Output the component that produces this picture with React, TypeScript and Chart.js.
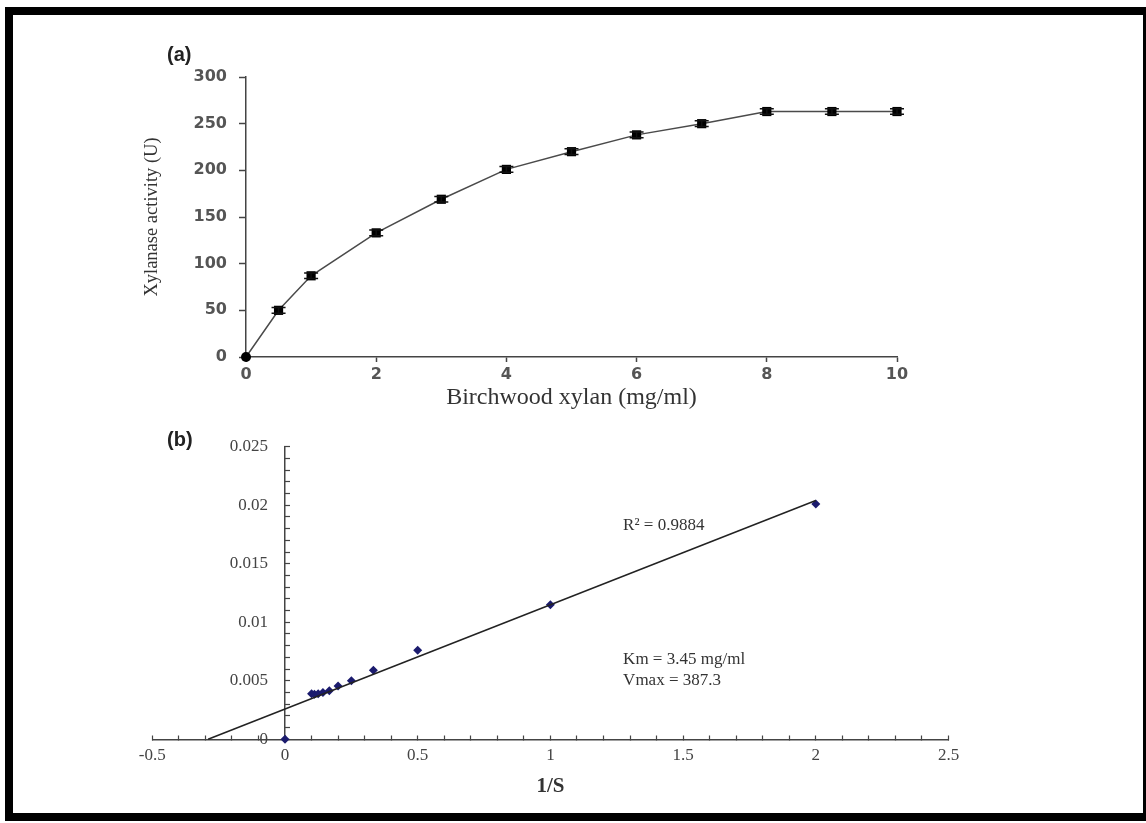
import React, { useEffect, useRef } from "react";
import { Chart, registerables } from "chart.js";

Chart.register(...registerables);

// ---- Panel (a): Michaelis-Menten curve ----
const substrateA = [0, 0.5, 1, 2, 3, 4, 5, 6, 7, 8, 9, 10];
const activityA = [0, 50, 87, 133, 169, 201, 220, 238, 250, 263, 263, 263];
const errorA = [0, 3, 3, 3, 3, 3, 3, 3, 3, 3, 3, 3];
const xTicksA = [0, 2, 4, 6, 8, 10];
const yTicksA = [0, 50, 100, 150, 200, 250, 300];

// ---- Panel (b): Lineweaver-Burk plot ----
const invS = [0, 0.1, 0.111, 0.125, 0.143, 0.167, 0.2, 0.25, 0.333, 0.5, 1, 2];
const invV = [0, 0.0039, 0.00385, 0.0039, 0.004, 0.00415, 0.00455, 0.005, 0.0059, 0.0076, 0.0115, 0.0201];
const km = 3.45;
const vmax = 387.3;
const rSquared = "0.9884";
const trendX = [-1 / km, 2];
const notes = [`R² = ${rSquared}`, `Km = ${km} mg/ml`, `Vmax = ${vmax}`];

const errorBarPlugin = {
  id: "errorBars",
  afterDatasetsDraw(chart: any) {
    const ctx = chart.ctx;
    const meta = chart.getDatasetMeta(0);
    const ys = chart.scales.y;
    ctx.save();
    ctx.strokeStyle = "#111";
    ctx.lineWidth = 1.5;
    meta.data.forEach((pt: any, i: number) => {
      const e = errorA[i];
      if (!e) return;
      const yt = ys.getPixelForValue(activityA[i] + e);
      const yb = ys.getPixelForValue(activityA[i] - e);
      ctx.beginPath();
      ctx.moveTo(pt.x, yt);
      ctx.lineTo(pt.x, yb);
      ctx.moveTo(pt.x - 7, yt);
      ctx.lineTo(pt.x + 7, yt);
      ctx.moveTo(pt.x - 7, yb);
      ctx.lineTo(pt.x + 7, yb);
      ctx.stroke();
    });
    ctx.restore();
  },
};

const notesPlugin = {
  id: "notes",
  afterDatasetsDraw(chart: any) {
    const ctx = chart.ctx;
    const xs = chart.scales.x;
    const ys = chart.scales.y;
    const spots = [
      [1.274, 0.0183],
      [1.274, 0.0068],
      [1.274, 0.0050],
    ];
    ctx.save();
    ctx.fillStyle = "#333";
    ctx.font = "17px 'Liberation Serif'";
    ctx.textAlign = "left";
    ctx.textBaseline = "middle";
    notes.forEach((t, i) => {
      ctx.fillText(t, xs.getPixelForValue(spots[i][0]), ys.getPixelForValue(spots[i][1]));
    });
    ctx.restore();
  },
};

export default function App() {
  const refA = useRef<HTMLCanvasElement>(null);
  const refB = useRef<HTMLCanvasElement>(null);

  useEffect(() => {
    const axisColor = "#444";
    const chartA = new Chart(refA.current!, {
      type: "line",
      data: {
        datasets: [
          {
            data: substrateA.map((x, i) => ({ x, y: activityA[i] })),
            borderColor: "#4a4a4a",
            borderWidth: 1.5,
            pointStyle: substrateA.map((x) => (x === 0 ? "circle" : "rect")) as any,
            pointRadius: substrateA.map((x) => (x === 0 ? 5 : 6.5)),
            pointBackgroundColor: "#000",
            pointBorderColor: "#000",
            pointBorderWidth: 0,
            tension: 0,
            clip: false,
          },
        ],
      },
      options: {
        animation: false,
        responsive: false,
        layout: { padding: { left: 0, right: 43, top: 37, bottom: 0 } },
        plugins: { legend: { display: false }, tooltip: { enabled: false } },
        scales: {
          x: {
            type: "linear",
            min: 0,
            max: 10,
            afterBuildTicks: (s: any) => {
              s.ticks = xTicksA.map((v) => ({ value: v }));
            },
            ticks: {
              color: "#555",
              font: { family: "DejaVu Sans", size: 16, weight: "bold" },
              padding: 3,
              maxRotation: 0,
            },
            grid: { drawOnChartArea: false, drawTicks: true, tickLength: 5, tickColor: axisColor, tickWidth: 1.5 },
            border: { display: true, color: axisColor, width: 1.5 },
            title: {
              display: true,
              text: "Birchwood xylan (mg/ml)",
              color: "#333",
              font: { family: "Liberation Serif", size: 24 },
              padding: { top: 0, bottom: 7.6 },
            },
            afterFit: (s: any) => {
              s.height = 63;
            },
          },
          y: {
            type: "linear",
            min: 0,
            max: 300,
            afterBuildTicks: (s: any) => {
              s.ticks = yTicksA.map((v) => ({ value: v }));
            },
            ticks: {
              color: "#555",
              font: { family: "DejaVu Sans", size: 16, weight: "bold" },
              padding: 12,
            },
            grid: { drawOnChartArea: false, drawTicks: true, tickLength: 7, tickColor: axisColor, tickWidth: 1.5 },
            border: { display: true, color: axisColor, width: 1.5 },
            title: {
              display: true,
              text: "Xylanase activity (U)",
              color: "#333",
              font: { family: "Liberation Serif", size: 18.5 },
              padding: { top: 41, bottom: 0 },
            },
            afterFit: (s: any) => {
              s.width = 146;
            },
          },
        },
      } as any,
      plugins: [errorBarPlugin],
    });

    const isMultiple = (v: number, step: number) => Math.abs(v / step - Math.round(v / step)) < 1e-6;

    const chartB = new Chart(refB.current!, {
      type: "scatter",
      data: {
        datasets: [
          {
            type: "line",
            data: trendX.map((x) => ({ x, y: 1 / vmax + (km / vmax) * x })),
            borderColor: "#222",
            borderWidth: 1.5,
            pointRadius: 0,
            tension: 0,
            clip: false,
          } as any,
          {
            type: "scatter",
            data: invS.map((x, i) => ({ x, y: invV[i] })),
            pointStyle: "rectRot",
            pointRadius: 4.5,
            backgroundColor: "#1b1b6e",
            borderColor: "#1b1b6e",
            borderWidth: 0,
            clip: false,
          },
        ],
      },
      options: {
        animation: false,
        responsive: false,
        layout: { padding: { left: 52.3, right: 51.5, top: 26.7, bottom: 70.7 } },
        plugins: { legend: { display: false }, tooltip: { enabled: false } },
        scales: {
          x: {
            type: "linear",
            min: -0.5,
            max: 2.5,
            position: { y: 0 },
            ticks: {
              stepSize: 0.1,
              autoSkip: false,
              maxRotation: 0,
              color: "#444",
              font: { family: "Liberation Serif", size: 17 },
              padding: 11.5,
              callback: (v: any) => (isMultiple(Number(v), 0.5) ? String(Number(Number(v).toFixed(1))) : ""),
            },
            grid: { drawOnChartArea: false, drawTicks: true, tickLength: -5, tickColor: axisColor, tickWidth: 1.2 },
            border: { display: true, color: axisColor, width: 1.5 },
            title: {
              display: true,
              text: "1/S",
              color: "#333",
              font: { family: "Liberation Serif", size: 21, weight: "bold" },
              padding: { top: 0, bottom: 0 },
            },
            afterFit: (s: any) => {
              s.height = 60;
            },
          },
          y: {
            type: "linear",
            min: 0,
            max: 0.025,
            position: { x: 0 },
            ticks: {
              stepSize: 0.001,
              autoSkip: false,
              color: "#444",
              font: { family: "Liberation Serif", size: 17 },
              padding: 12,
              // labels sit against the axis for a value-positioned scale; two en spaces keep the gap
              callback: (v: any) =>
                isMultiple(Number(v), 0.005) ? String(Number(Number(v).toFixed(3))) + "\u2002\u2002" : "",
            },
            grid: { drawOnChartArea: false, drawTicks: true, tickLength: -6, tickColor: axisColor, tickWidth: 1.2 },
            border: { display: true, color: axisColor, width: 1.5 },
          },
        },
      } as any,
      plugins: [notesPlugin],
    });

    return () => {
      chartA.destroy();
      chartB.destroy();
    };
  }, []);

  const labelStyle: React.CSSProperties = {
    position: "absolute",
    fontFamily: "'Liberation Sans', Arial, sans-serif",
    fontWeight: "bold",
    fontSize: 20,
    lineHeight: "20px",
    color: "#222",
  };

  return (
    <div
      style={{
        position: "fixed",
        left: 0,
        top: 0,
        width: 1146,
        height: 823,
        overflow: "hidden",
        background: "#fff",
      }}
    >
      <div
        style={{
          position: "absolute",
          left: 5,
          top: 7,
          width: 1146,
          height: 814,
          border: "8px solid #000",
          boxSizing: "border-box",
        }}
      />
      <canvas
        ref={refA}
        width={840}
        height={380}
        style={{ position: "absolute", left: 100, top: 40, width: 840, height: 380 }}
      />
      <canvas
        ref={refB}
        width={900}
        height={390}
        style={{ position: "absolute", left: 100, top: 420, width: 900, height: 390 }}
      />
      <div style={{ ...labelStyle, left: 167, top: 44 }}>(a)</div>
      <div style={{ ...labelStyle, left: 167, top: 429 }}>(b)</div>
    </div>
  );
}
